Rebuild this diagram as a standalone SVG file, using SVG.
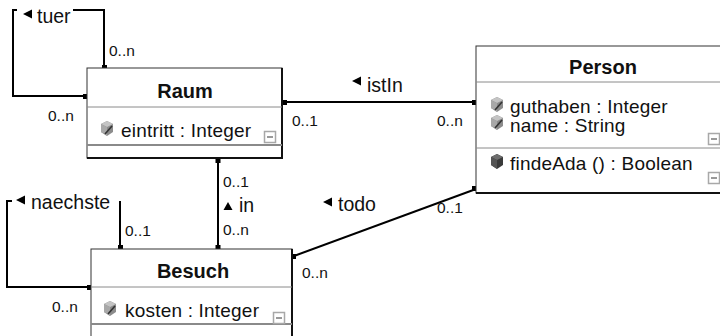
<svg xmlns="http://www.w3.org/2000/svg" width="720" height="336" viewBox="0 0 720 336">
  <style>
    .box { fill: #ffffff; stroke: #333333; stroke-width: 1; }
    .sep { stroke: #8a8a8a; stroke-width: 1; }
    .sep2 { stroke: #8a8a8a; stroke-width: 2; }
    .shade { fill: none; stroke: #111111; stroke-width: 2; }
    .title { font-family: "Liberation Sans", Arial, sans-serif; font-size: 20px; font-weight: bold; fill: #111111; text-anchor: middle; }
    .member { font-family: "Liberation Sans", Arial, sans-serif; font-size: 19px; letter-spacing: 0.2px; fill: #111111; }
    .conn { fill: none; stroke: #000000; stroke-width: 2; }
    .end { fill: #000000; }
    .name { font-family: "Liberation Sans", Arial, sans-serif; font-size: 19.5px; fill: #111111; }
    .mult { font-family: "Liberation Sans", Arial, sans-serif; font-size: 15.5px; fill: #111111; }
    .dir { fill: #000000; }
  </style>
  <defs>
    <!-- collapse toggle -->
    <g id="toggle">
      <rect x="0.5" y="0.5" width="11" height="11" fill="#ffffff" stroke="#a8a8a8" stroke-width="1.5"/>
      <line x1="3" y1="6" x2="9" y2="6" stroke="#777777" stroke-width="1.5"/>
    </g>
    <!-- attribute icon -->
    <g id="attr">
      <polygon points="7,0 13,3 13,11 7,15 1,11 1,3" fill="#8c8c8c"/>
      <polygon points="7,0 13,3 7,6 1,3" fill="#c4c4c4"/>
      <polygon points="1,3 7,6 7,15 1,11" fill="#a8a8a8"/>
      <line x1="5" y1="13" x2="12" y2="5" stroke="#333333" stroke-width="1.6"/>
    </g>
    <!-- operation icon -->
    <g id="oper">
      <polygon points="7,0 13,3 13,11 7,15 1,11 1,3" fill="#3a3a3a"/>
      <polygon points="7,0 13,3 7,6 1,3" fill="#6e6e6e"/>
      <polygon points="1,3 7,6 7,15 1,11" fill="#555555"/>
    </g>
  </defs>

  <rect width="720" height="336" fill="#ffffff"/>

  <!-- associations -->
  <g id="connectors">
    <!-- tuer (Raum to Raum) -->
    <path class="conn" d="M73,10 H104 V68"/>
    <path class="conn" d="M17,10 H13 V96 H87"/>
    <rect class="end" x="102" y="65" width="5" height="4"/>
    <rect class="end" x="83" y="94" width="4" height="5"/>
    <polygon class="dir" points="23,14 32,9.5 32,18.5"/>
    <text class="name" x="37" y="23">tuer</text>
    <text class="mult" x="109" y="56">0..n</text>
    <text class="mult" x="48" y="121">0..n</text>

    <!-- istIn (Person to Raum) -->
    <path class="conn" d="M284,102 H476"/>
    <rect class="end" x="283" y="100" width="4" height="5"/>
    <rect class="end" x="472" y="100" width="4" height="5"/>
    <polygon class="dir" points="352,81 361,76.5 361,85.5"/>
    <text class="name" x="367" y="92">istIn</text>
    <text class="mult" x="292" y="126">0..1</text>
    <text class="mult" x="437" y="126">0..n</text>

    <!-- in (Besuch to Raum) -->
    <path class="conn" d="M218,158 V249"/>
    <rect class="end" x="215.5" y="159" width="5" height="4"/>
    <rect class="end" x="215.5" y="245" width="5" height="4"/>
    <text class="mult" x="223" y="187">0..1</text>
    <polygon class="dir" points="228,202 223.5,210 232.5,210"/>
    <text class="name" x="239" y="212">in</text>
    <text class="mult" x="223" y="235">0..n</text>

    <!-- naechste (Besuch to Besuch) -->
    <path class="conn" d="M120,249 V201"/>
    <path class="conn" d="M12,201 H7 V287 H91"/>
    <rect class="end" x="118" y="245" width="5" height="4"/>
    <rect class="end" x="87" y="285" width="4" height="5"/>
    <polygon class="dir" points="16,200 25,195.5 25,204.5"/>
    <text class="name" x="31" y="209">naechste</text>
    <text class="mult" x="125" y="236">0..1</text>
    <text class="mult" x="52" y="312">0..n</text>

    <!-- todo (Besuch to Person) -->
    <path class="conn" d="M294,256 L476,189" stroke-width="1.6"/>
    <rect class="end" x="292" y="254" width="4" height="5"/>
    <rect class="end" x="472" y="186" width="4" height="5"/>
    <polygon class="dir" points="323,202 332,197.5 332,206.5"/>
    <text class="name" x="338" y="211">todo</text>
    <text class="mult" x="437" y="213">0..1</text>
    <text class="mult" x="302" y="278">0..n</text>
  </g>

  <!-- Raum -->
  <g id="raum">
    <rect class="box" x="87" y="68" width="195" height="90"/>
    <path class="shade" d="M282,68 V158 H87"/>
    <line class="sep" x1="87" y1="107" x2="282" y2="107"/>
    <line class="sep2" x1="87" y1="145" x2="282" y2="145"/>
    <text class="title" x="185" y="98">Raum</text>
    <use href="#attr" x="100" y="121"/>
    <text class="member" x="121" y="137">eintritt : Integer</text>
    <use href="#toggle" x="264" y="131"/>
  </g>

  <!-- Person -->
  <g id="person">
    <rect class="box" x="476" y="46" width="254" height="147"/>
    <line class="shade" x1="476" y1="193" x2="730" y2="193"/>
    <line class="sep" x1="476" y1="82" x2="730" y2="82"/>
    <line class="sep" x1="476" y1="148" x2="730" y2="148"/>
    <text class="title" x="603" y="74">Person</text>
    <use href="#attr" x="490" y="97"/>
    <text class="member" x="510" y="113">guthaben : Integer</text>
    <use href="#attr" x="490" y="115"/>
    <text class="member" x="510" y="131.5">name : String</text>
    <use href="#toggle" x="708" y="133"/>
    <use href="#oper" x="490" y="154"/>
    <text class="member" x="510" y="170">findeAda () : Boolean</text>
    <use href="#toggle" x="708" y="172"/>
  </g>

  <!-- Besuch -->
  <g id="besuch">
    <rect class="box" x="91" y="249" width="201" height="100"/>
    <line class="shade" x1="292" y1="249" x2="292" y2="349"/>
    <line class="sep" x1="91" y1="287" x2="292" y2="287"/>
    <line class="sep2" x1="91" y1="324" x2="292" y2="324"/>
    <text class="title" x="193" y="278">Besuch</text>
    <use href="#attr" x="103" y="301"/>
    <text class="member" x="125" y="317">kosten : Integer</text>
    <use href="#toggle" x="273" y="312"/>
  </g>
</svg>
